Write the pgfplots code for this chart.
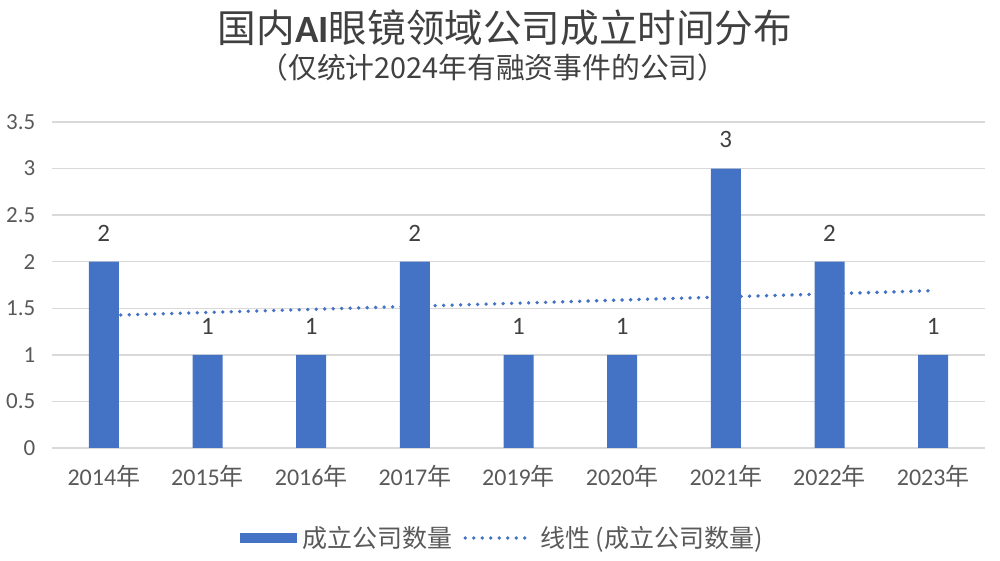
\documentclass[border=0pt]{standalone}
\usepackage{fontspec}
\setmainfont{Carlito}
\newfontfamily\cjk{Noto Sans CJK SC}
\usepackage{pgfplots}
\pgfplotsset{compat=1.18}
\definecolor{barblue}{HTML}{4472C4}
\definecolor{gridgray}{HTML}{D9D9D9}
\definecolor{txtgray}{HTML}{595959}
\definecolor{titlegray}{HTML}{404040}

\begin{document}
\begin{tikzpicture}
\begin{axis}[
  set layers=standard,
  scale only axis, width=466.5pt, height=163pt,
  xmin=-0.5, xmax=8.5, ymin=0, ymax=3.5,
  xtick={0,1,2,3,4,5,6,7,8},
  xticklabels={2014{\cjk 年},2015{\cjk 年},2016{\cjk 年},2017{\cjk 年},2019{\cjk 年},2020{\cjk 年},2021{\cjk 年},2022{\cjk 年},2023{\cjk 年}},
  ytick={0,0.5,1,1.5,2,2.5,3,3.5},
  yticklabels={0,0.5,1,1.5,2,2.5,3,3.5},
  axis line style={draw=none},
  major tick length=0pt,
  ymajorgrids, grid style={gridgray, line width=0.7pt},
  /pgf/number format/assume math mode=true,
  xticklabel style={font=\fontsize{12}{14}\selectfont, text=txtgray, yshift=-5pt},
  yticklabel style={font=\fontsize{11.5}{14}\selectfont, text=txtgray, xshift=-4.8pt},
  legend columns=2,
  legend style={at={(0.4845,-0.276)}, anchor=center, draw=none, fill=none,
    font=\cjk\fontsize{12.5}{15}\selectfont, text=txtgray,
    nodes={inner xsep=2.5pt},
    /tikz/every even column/.append style={column sep=3pt}},
]
\addplot[ybar, bar width=15pt, fill=barblue, draw=none,
  nodes near coords,
  every node near coord/.append style={font=\fontsize{12.5}{14}\selectfont, text=titlegray, yshift=6.8pt},
  legend image code/.code={\fill[barblue] (0pt,-2.3pt) rectangle (28.5pt,2.3pt);}]
  coordinates {(0,2) (1,1) (2,1) (3,2) (4,1) (5,1) (6,3) (7,2) (8,1)};
\addlegendentry{成立公司数量}
\addplot[on layer=pre main, barblue, line width=1.9pt, dash pattern=on 0pt off 4.25pt, line cap=round,
  legend image code/.code={\draw[barblue, line width=1.9pt, dash pattern=on 0pt off 4.25pt, line cap=round] (1pt,0pt) -- (35pt,0pt);}]
  coordinates {(0,1.4222) (8,1.6889)};
\addlegendentry{线性 (成立公司数量)}
\end{axis}
\node[text=titlegray, font=\fontsize{19.3}{24}\selectfont] at (226.5pt,210pt) {{\cjk 国内}{\bfseries AI}{\cjk 眼镜领域公司成立时间分布}};
\node[text=titlegray, font=\cjk\fontsize{14.4}{17}\selectfont] at (220.5pt,190pt) {（仅统计2024年有融资事件的公司）};
\pgfresetboundingbox
\path[use as bounding box] (-26pt,-56.5pt) rectangle (474pt,224pt);
\end{tikzpicture}
\end{document}
